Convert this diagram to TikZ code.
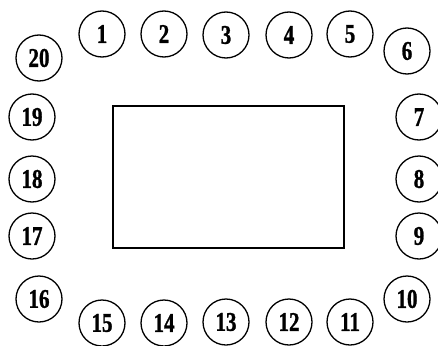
\documentclass[tikz,border=0pt]{standalone}
\usepackage{fontspec}
\setmainfont{Liberation Serif}
\newfontface\seatfont[FakeBold=1.2]{Liberation Serif Bold}
\begin{document}
\begin{tikzpicture}[x=1pt,y=-1pt,
  seat/.style={circle,draw,line width=1.3pt,minimum size=46pt,inner sep=0pt,
    font=\fontsize{27}{27}\seatfont},
  tbl/.style={draw,line width=2.2pt}]
\useasboundingbox (0,0) rectangle (438,345);
\newcommand{\nm}[1]{\scalebox{0.78}[1]{#1}}
\node[tbl,minimum width=231pt,minimum height=142pt,inner sep=0pt] (table) at (228.5,177) {};
\node[seat] (s1) at (102,34) {\nm{1}};
\node[seat] (s2) at (164,34) {\nm{2}};
\node[seat] (s3) at (226,35) {\nm{3}};
\node[seat] (s4) at (289,35) {\nm{4}};
\node[seat] (s5) at (350,34) {\nm{5}};
\node[seat] (s6) at (407,51) {\nm{6}};
\node[seat] (s7) at (419,117) {\nm{7}};
\node[seat] (s8) at (419,179) {\nm{8}};
\node[seat] (s9) at (419,236) {\nm{9}};
\node[seat] (s10) at (407,299) {\nm{10}};
\node[seat] (s11) at (350,322) {\nm{11}};
\node[seat] (s12) at (289,322) {\nm{12}};
\node[seat] (s13) at (226,322) {\nm{13}};
\node[seat] (s14) at (164,323) {\nm{14}};
\node[seat] (s15) at (102,323) {\nm{15}};
\node[seat] (s16) at (39,299) {\nm{16}};
\node[seat] (s17) at (32,236) {\nm{17}};
\node[seat] (s18) at (32,179) {\nm{18}};
\node[seat] (s19) at (32,117) {\nm{19}};
\node[seat] (s20) at (39,58) {\nm{20}};
\end{tikzpicture}
\end{document}
